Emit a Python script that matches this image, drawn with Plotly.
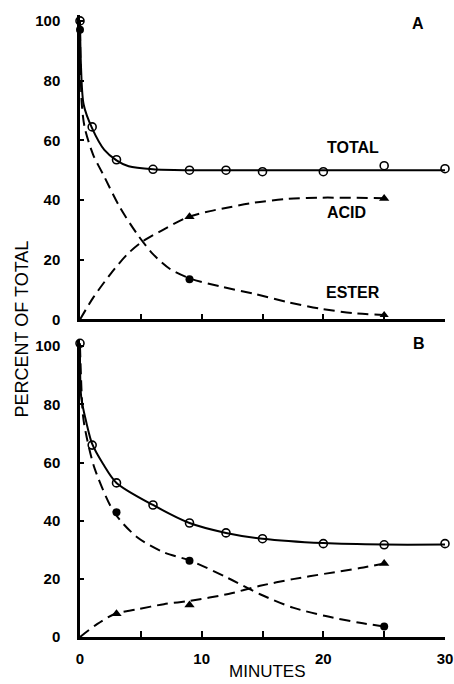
import plotly.graph_objects as go

# ---------------- Panel A data ----------------
a_total_t = [0, 1, 3, 6, 9, 12, 15, 20, 25, 30]
a_total = [100, 64.5, 53.5, 50.3, 50, 50, 49.5, 49.5, 51.5, 50.5]
a_ester_t = [0, 9, 25]
a_ester = [97, 13.5, 1.5]
a_acid_t = [9, 25]
a_acid = [34.4, 40.5]

# fitted curves
a_total_curve_t = [0, 0.08, 0.3, 1, 2, 3, 4, 6, 9, 15, 20, 30]
a_total_curve = [100, 85, 72, 64, 56.8, 53.3, 51.3, 50.3, 50, 50, 50, 50]
a_ester_curve_t = [0, 0.15, 0.4, 1.1, 1.9, 3.3, 4.7, 6, 7.4, 9, 11.6, 14.3, 17.1, 19.8, 22.5, 25]
a_ester_curve = [97, 72, 64, 55, 48.6, 37.4, 28.6, 21.9, 16.9, 13.8, 11, 8.6, 5.8, 3.6, 2.1, 1.5]
a_acid_curve_t = [0, 1.1, 2.5, 3.9, 5.2, 6.9, 8.8, 10.7, 12.4, 14.3, 17.1, 19.8, 25]
a_acid_curve = [0, 7.4, 15.2, 21.9, 26.3, 30.2, 34.2, 36.3, 37.7, 39.1, 40.4, 40.8, 40.6]

# ---------------- Panel B data ----------------
b_total_t = [0, 1, 3, 6, 9, 12, 15, 20, 25, 30]
b_total = [101, 66, 53, 45.4, 39.2, 35.8, 33.8, 32.1, 31.7, 32.1]
b_ester_t = [3, 9, 25]
b_ester = [42.9, 26.2, 3.6]
b_acid_t = [3, 9, 25]
b_acid = [8, 11, 25.3]

b_total_curve_t = [0, 0.1, 0.55, 1, 1.9, 3, 6, 9, 12, 15, 20, 25, 30]
b_total_curve = [101, 82.5, 73.3, 66.4, 59.5, 53, 45.4, 39.2, 35.8, 33.8, 32.3, 31.8, 31.8]
b_ester_curve_t = [0, 0.25, 0.55, 1.2, 2.8, 4.7, 6.9, 9.1, 12.2, 14.8, 17.5, 20.2, 23, 25]
b_ester_curve = [100, 76, 68.7, 58, 42.9, 34.3, 29.1, 26.2, 20.2, 14.7, 10.1, 7.2, 4.9, 3.6]
b_acid_curve_t = [0, 1.4, 2.9, 4.7, 6.9, 9, 12.2, 14.8, 17.5, 20.2, 23, 25]
b_acid_curve = [0, 4.4, 8, 9.5, 11.3, 12.4, 14.8, 17.6, 19.9, 21.8, 23.7, 25.3]

x_ticks = [0, 5, 10, 15, 20, 25, 30]
x_ticktext = ["0", "", "10", "", "20", "", "30"]
y_ticks = [0, 20, 40, 60, 80, 100]

fig = go.Figure()

DASH = "11px,6px"


def add_panel(xa, ya, tc_t, tc, ec_t, ec, ac_t, ac, tt, tv, et, ev, at, av, ester_symbols):
    common = dict(xaxis=xa, yaxis=ya, showlegend=False, hoverinfo="skip", cliponaxis=False)
    fig.add_trace(go.Scatter(x=tc_t, y=tc, mode="lines", line=dict(color="black", width=2, shape="spline", smoothing=0.8), **common))
    fig.add_trace(go.Scatter(x=ec_t, y=ec, mode="lines", line=dict(color="black", width=2, dash=DASH, shape="spline", smoothing=0.8), **common))
    fig.add_trace(go.Scatter(x=ac_t, y=ac, mode="lines", line=dict(color="black", width=2, dash=DASH, shape="spline", smoothing=0.8), **common))
    fig.add_trace(go.Scatter(x=tt, y=tv, mode="markers", marker=dict(symbol="circle-open", size=8, color="black", line=dict(width=1.6)), **common))
    fig.add_trace(go.Scatter(x=et, y=ev, mode="markers", marker=dict(symbol=ester_symbols, size=8, color="black"), **common))
    fig.add_trace(go.Scatter(x=at, y=av, mode="markers", marker=dict(symbol="triangle-up", size=9, color="black"), **common))


add_panel("x2", "y2", a_total_curve_t, a_total_curve, a_ester_curve_t, a_ester_curve,
          a_acid_curve_t, a_acid_curve, a_total_t, a_total, a_ester_t, a_ester,
          a_acid_t, a_acid, ["circle", "circle", "triangle-up"])
add_panel("x", "y", b_total_curve_t, b_total_curve, b_ester_curve_t, b_ester_curve,
          b_acid_curve_t, b_acid_curve, b_total_t, b_total, b_ester_t, b_ester,
          b_acid_t, b_acid, ["circle", "circle", "circle"])

tickfont = dict(family="Liberation Sans, Arial", size=15, color="black", weight="bold")
axis_common = dict(showgrid=False, zeroline=False, showline=True, linecolor="black", linewidth=2.5,
                   ticks="inside", tickcolor="black", tickwidth=1.5, tickfont=tickfont)

fig.update_layout(
    width=454, height=684,
    margin=dict(l=80, r=9, t=0, b=47),
    paper_bgcolor="white", plot_bgcolor="white",
    xaxis=dict(range=[0, 30], domain=[0, 1], anchor="y", tickvals=x_ticks, ticktext=x_ticktext,
               ticklen=6, ticklabelstandoff=6, **axis_common),
    yaxis=dict(range=[0, 102], domain=[0, 0.4678], anchor="x", tickvals=y_ticks, ticklen=4,
               ticklabelstandoff=14, **axis_common),
    xaxis2=dict(range=[0, 30], domain=[0, 1], anchor="y2", tickvals=x_ticks, showticklabels=False,
                ticklen=6, **axis_common),
    yaxis2=dict(range=[0, 102], domain=[0.5008, 0.9812], anchor="x2", tickvals=y_ticks, ticklen=4,
                ticklabelstandoff=14, **axis_common),
)

lab_font = dict(family="Liberation Sans Narrow, Arial Narrow, Liberation Sans", size=16, color="black", weight="bold")
labels_a = [("TOTAL", 22.4, 57.7), ("ACID", 21.9, 35.7), ("ESTER", 22.4, 9.0), ("A", 27.8, 99.0)]
for txt, x, y in labels_a:
    fig.add_annotation(x=x, y=y, xref="x2", yref="y2", text=txt, showarrow=False, font=lab_font,
                       xanchor="center", yanchor="middle")
fig.add_annotation(x=27.9, y=101, xref="x", yref="y", text="B", showarrow=False, font=lab_font,
                   xanchor="center", yanchor="middle")

title_font = dict(family="Liberation Sans, Arial", size=18, color="black")
fig.add_annotation(x=-0.159, y=0.4867, xref="paper", yref="paper", text="PERCENT OF TOTAL",
                   textangle=-90, showarrow=False, font=title_font, xanchor="center", yanchor="middle")
fig.add_annotation(x=0.515, y=-0.0550, xref="paper", yref="paper", text="MINUTES",
                   showarrow=False, font=dict(family="Liberation Sans, Arial", size=17, color="black"),
                   xanchor="center", yanchor="middle")

fig.write_html("out.html")
